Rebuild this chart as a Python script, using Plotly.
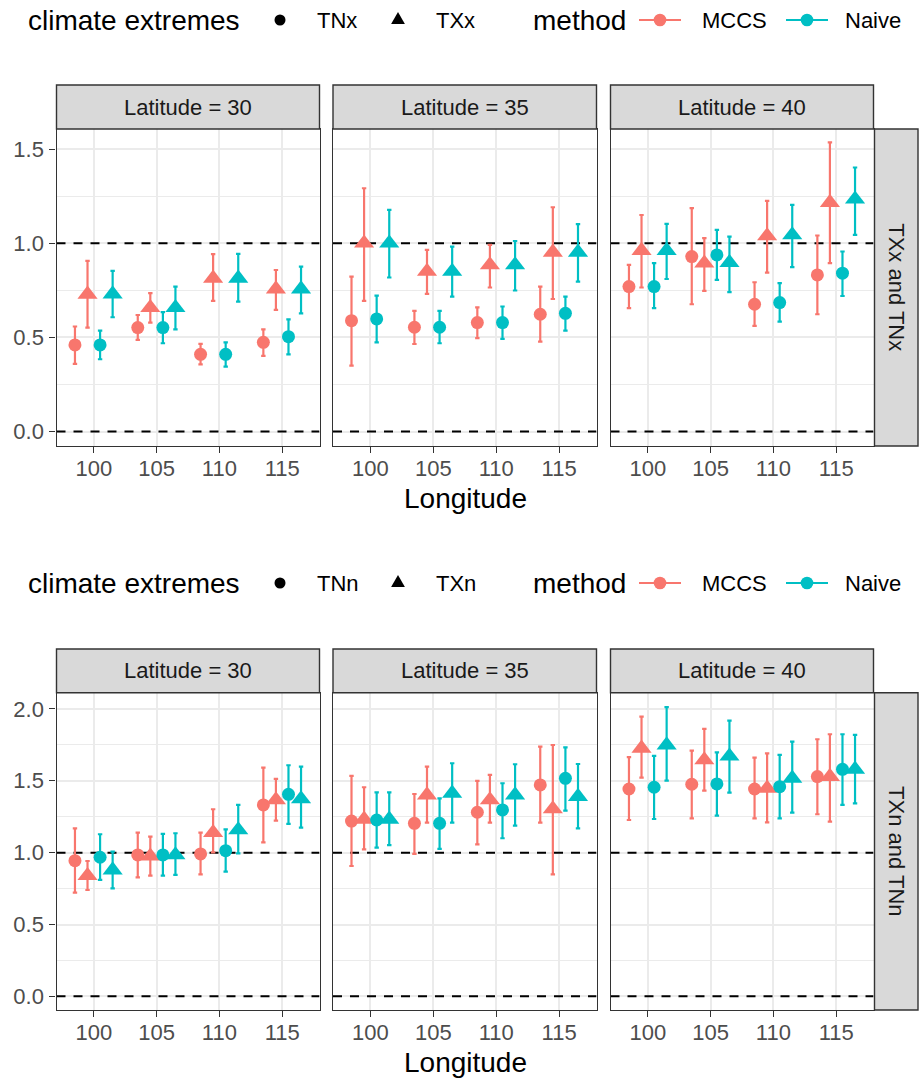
import plotly.graph_objects as go

W, H = 922, 1082
FONT = "Liberation Sans, Arial, Helvetica, sans-serif"

# ---------------- data ----------------
LONGITUDES = [100, 105, 110, 115]
LATITUDES = [30, 35, 40]
METHODS = ["MCCS", "Naive"]
ROW_LABELS = ["TXx and TNx", "TXn and TNn"]
EXTREME_LABELS = [["TNx", "TXx"], ["TNn", "TXn"]]
X_TICKS = [100, 105, 110, 115]
Y_TICKS = [[0.0, 0.5, 1.0, 1.5], [0.0, 0.5, 1.0, 1.5, 2.0]]
Y_MINOR = [[0.25, 0.75, 1.25], [0.25, 0.75, 1.25, 1.75]]
REF_LINES = [0.0, 1.0]

# Row 1: TXx and TNx   (one list per latitude 30/35/40, values per longitude)
MCCS_TNX = [[0.46, 0.552, 0.41, 0.474], [0.589, 0.554, 0.579, 0.623], [0.77, 0.929, 0.676, 0.832]]
MCCS_TNX_LO = [[0.359, 0.487, 0.357, 0.402], [0.350, 0.465, 0.496, 0.478], [0.655, 0.676, 0.561, 0.623]]
MCCS_TNX_HI = [[0.558, 0.619, 0.466, 0.543], [0.823, 0.641, 0.66, 0.77], [0.885, 1.186, 0.793, 1.041]]

MCCS_TXX = [[0.729, 0.658, 0.814, 0.757], [1.0, 0.85, 0.885, 0.952], [0.961, 0.894, 1.039, 1.216]]
MCCS_TXX_LO = [[0.552, 0.579, 0.694, 0.646], [0.694, 0.731, 0.765, 0.704], [0.765, 0.747, 0.844, 0.894]]
MCCS_TXX_HI = [[0.906, 0.735, 0.942, 0.858], [1.292, 0.965, 0.991, 1.191], [1.15, 1.027, 1.225, 1.535]]

NAIVE_TNX = [[0.46, 0.552, 0.41, 0.504], [0.598, 0.554, 0.579, 0.628], [0.77, 0.938, 0.685, 0.841]]
NAIVE_TNX_LO = [[0.384, 0.469, 0.345, 0.41], [0.474, 0.469, 0.492, 0.536], [0.655, 0.805, 0.584, 0.72]]
NAIVE_TNX_HI = [[0.536, 0.634, 0.474, 0.596], [0.722, 0.641, 0.664, 0.717], [0.894, 1.071, 0.788, 0.956]]

NAIVE_TXX = [[0.73, 0.658, 0.814, 0.757], [1.0, 0.85, 0.885, 0.952], [0.961, 0.897, 1.044, 1.234]]
NAIVE_TXX_LO = [[0.607, 0.543, 0.69, 0.628], [0.818, 0.717, 0.749, 0.796], [0.81, 0.74, 0.873, 1.044]]
NAIVE_TXX_HI = [[0.853, 0.77, 0.943, 0.876], [1.177, 0.982, 1.012, 1.101], [1.103, 1.035, 1.204, 1.402]]

# Row 2: TXn and TNn
MCCS_TNN = [[0.944, 0.984, 0.991, 1.332], [1.22, 1.204, 1.281, 1.471], [1.443, 1.476, 1.443, 1.529]]
MCCS_TNN_LO = [[0.722, 0.828, 0.849, 1.072], [0.907, 0.991, 1.058, 1.209], [1.227, 1.239, 1.239, 1.267]]
MCCS_TNN_HI = [[1.169, 1.139, 1.139, 1.592], [1.534, 1.408, 1.499, 1.738], [1.664, 1.71, 1.661, 1.789]]

MCCS_TXN = [[0.84, 0.975, 1.139, 1.367], [1.232, 1.401, 1.367, 1.304], [1.726, 1.645, 1.448, 1.529]]
MCCS_TXN_LO = [[0.74, 0.84, 1.002, 1.223], [1.023, 1.209, 1.209, 0.849], [1.522, 1.432, 1.211, 1.216]]
MCCS_TXN_HI = [[0.942, 1.111, 1.302, 1.513], [1.455, 1.599, 1.541, 1.749], [1.947, 1.861, 1.691, 1.824]]

NAIVE_TNN = [[0.968, 0.984, 1.014, 1.406], [1.227, 1.204, 1.297, 1.517], [1.455, 1.478, 1.459, 1.58]]
NAIVE_TNN_LO = [[0.81, 0.84, 0.868, 1.2], [1.035, 1.026, 1.1, 1.292], [1.234, 1.258, 1.239, 1.332]]
NAIVE_TNN_HI = [[1.128, 1.13, 1.162, 1.608], [1.42, 1.378, 1.483, 1.733], [1.673, 1.698, 1.68, 1.824]]

NAIVE_TXN = [[0.879, 0.984, 1.158, 1.374], [1.232, 1.413, 1.401, 1.39], [1.749, 1.671, 1.517, 1.58]]
NAIVE_TXN_LO = [[0.752, 0.845, 0.995, 1.174], [1.053, 1.209, 1.188, 1.169], [1.501, 1.418, 1.278, 1.343]]
NAIVE_TXN_HI = [[1.007, 1.135, 1.332, 1.599], [1.42, 1.622, 1.615, 1.617], [2.012, 1.919, 1.773, 1.819]]

# group order (ggplot dodge order): MCCS-TN, MCCS-TX, Naive-TN, Naive-TX
ROWS = [
    [("MCCS", 0, MCCS_TNX, MCCS_TNX_LO, MCCS_TNX_HI),
     ("MCCS", 1, MCCS_TXX, MCCS_TXX_LO, MCCS_TXX_HI),
     ("Naive", 0, NAIVE_TNX, NAIVE_TNX_LO, NAIVE_TNX_HI),
     ("Naive", 1, NAIVE_TXX, NAIVE_TXX_LO, NAIVE_TXX_HI)],
    [("MCCS", 0, MCCS_TNN, MCCS_TNN_LO, MCCS_TNN_HI),
     ("MCCS", 1, MCCS_TXN, MCCS_TXN_LO, MCCS_TXN_HI),
     ("Naive", 0, NAIVE_TNN, NAIVE_TNN_LO, NAIVE_TNN_HI),
     ("Naive", 1, NAIVE_TXN, NAIVE_TXN_LO, NAIVE_TXN_HI)],
]

# ---------------- style / layout ----------------
COLORS = {"MCCS": "#F8766D", "Naive": "#00BFC4"}
SYMBOLS = ["circle", "triangle-up"]
SIZES = [13, 17.5]
DODGE_WIDTH = 4.0
X_RANGE = [97.03, 117.97]
Y_RANGES = [[-0.0765, 1.6065], [-0.095, 2.113]]

PANEL_X = [(56.5, 319.5), (333.0, 596.5), (610.5, 873.5)]
PANEL_Y = [(129.0, 446.0), (692.7, 1010.0)]
STRIP_Y = [(85.0, 129.0), (649.0, 692.7)]
RSTRIP_X = (874.5, 918.0)
LEGEND_Y = [20.0, 583.0]
TITLE_Y = [499.0, 1062.0]

BORDER = "#333333"
GRID = "#EBEBEB"
STRIP_FILL = "#D9D9D9"


def px(x):
    return x / W


def py(y):
    return 1 - y / H


fig = go.Figure()
layout = dict(
    width=W, height=H, margin=dict(l=0, r=0, t=0, b=0, autoexpand=False),
    paper_bgcolor="white", plot_bgcolor="white", showlegend=False,
    font=dict(family=FONT, color="black"),
)
shapes = []
annotations = []

for r in range(2):
    for c in range(3):
        idx = r * 3 + c + 1
        xa = "x" if idx == 1 else f"x{idx}"
        ya = "y" if idx == 1 else f"y{idx}"
        xkey = "xaxis" if idx == 1 else f"xaxis{idx}"
        ykey = "yaxis" if idx == 1 else f"yaxis{idx}"
        layout[xkey] = dict(
            domain=[px(PANEL_X[c][0]), px(PANEL_X[c][1])], anchor=ya,
            range=X_RANGE, tickvals=X_TICKS, ticks="outside", ticklen=6,
            tickwidth=1.4, tickcolor=BORDER, ticklabelstandoff=-4,
            tickfont=dict(size=22, color="#4D4D4D", family=FONT),
            showgrid=True, gridcolor=GRID, gridwidth=1.6, zeroline=False,
            showline=True, mirror=True, linecolor=BORDER, linewidth=1.4,
        )
        layout[ykey] = dict(
            domain=[py(PANEL_Y[r][1]), py(PANEL_Y[r][0])], anchor=xa,
            range=Y_RANGES[r], tickvals=Y_TICKS[r], tickformat=".1f",
            ticks="outside" if c == 0 else "", ticklen=6, tickwidth=1.4,
            tickcolor=BORDER, showticklabels=(c == 0), ticklabelstandoff=1,
            tickfont=dict(size=22, color="#4D4D4D", family=FONT),
            showgrid=True, gridcolor=GRID, gridwidth=1.6, zeroline=False,
            showline=True, mirror=True, linecolor=BORDER, linewidth=1.4,
            minor=dict(tickvals=Y_MINOR[r], showgrid=True, gridcolor=GRID,
                       gridwidth=0.8, ticks=""),
        )
        # reference dashed lines (drawn first, beneath the points)
        for v in REF_LINES:
            fig.add_trace(go.Scatter(
                x=X_RANGE, y=[v, v], xaxis=xa, yaxis=ya, mode="lines",
                line=dict(color="black", width=2, dash="9px,8px"),
                hoverinfo="skip", cliponaxis=False,
            ))
        # data
        n = len(ROWS[r])
        for gi, (meth, ext, est, lo, hi) in enumerate(ROWS[r]):
            off = (gi - (n - 1) / 2) * DODGE_WIDTH / n
            e = est[c]
            xs = [lon + off for lon in LONGITUDES]
            fig.add_trace(go.Scatter(
                x=xs, y=e, xaxis=xa, yaxis=ya, mode="markers",
                marker=dict(symbol=SYMBOLS[ext], size=SIZES[ext],
                            color=COLORS[meth], line=dict(width=0)),
                error_y=dict(type="data", symmetric=False,
                             array=[h - v for h, v in zip(hi[c], e)],
                             arrayminus=[v - l for v, l in zip(e, lo[c])],
                             color=COLORS[meth], thickness=2.2, width=2.2),
                name=f"{meth} {EXTREME_LABELS[r][ext]}",
                hoverinfo="skip",
            ))
        # top strip
        shapes.append(dict(type="rect", xref="paper", yref="paper",
                           x0=px(PANEL_X[c][0]), x1=px(PANEL_X[c][1]),
                           y0=py(STRIP_Y[r][1]), y1=py(STRIP_Y[r][0]),
                           fillcolor=STRIP_FILL, line=dict(color=BORDER, width=1.4),
                           layer="above"))
        annotations.append(dict(xref="paper", yref="paper",
                                x=px((PANEL_X[c][0] + PANEL_X[c][1]) / 2),
                                y=py((STRIP_Y[r][0] + STRIP_Y[r][1]) / 2),
                                text=f"Latitude = {LATITUDES[c]}", showarrow=False,
                                xanchor="center", yanchor="middle",
                                font=dict(size=22, color="#1A1A1A", family=FONT)))
    # right strip
    shapes.append(dict(type="rect", xref="paper", yref="paper",
                       x0=px(RSTRIP_X[0]), x1=px(RSTRIP_X[1]),
                       y0=py(PANEL_Y[r][1]), y1=py(PANEL_Y[r][0]),
                       fillcolor=STRIP_FILL, line=dict(color=BORDER, width=1.4),
                       layer="above"))
    annotations.append(dict(xref="paper", yref="paper",
                            x=px((RSTRIP_X[0] + RSTRIP_X[1]) / 2),
                            y=py((PANEL_Y[r][0] + PANEL_Y[r][1]) / 2),
                            text=ROW_LABELS[r], textangle=90, showarrow=False,
                            xanchor="center", yanchor="middle",
                            font=dict(size=22, color="#1A1A1A", family=FONT)))
    # axis title
    annotations.append(dict(xref="paper", yref="paper",
                            x=px((PANEL_X[0][0] + PANEL_X[2][1]) / 2), y=py(TITLE_Y[r]),
                            text="Longitude", showarrow=False, xanchor="center",
                            yanchor="middle", font=dict(size=28, color="black", family=FONT)))

    # ---------- legend (drawn manually) ----------
    ly = LEGEND_Y[r]

    def txt(x, s, size):
        annotations.append(dict(xref="paper", yref="paper", x=px(x), y=py(ly),
                                text=s, showarrow=False, xanchor="left",
                                yanchor="middle", font=dict(size=size, color="black", family=FONT)))

    txt(25.5, "climate extremes", 28)
    # circle key
    cr = 5.5
    shapes.append(dict(type="circle", xref="paper", yref="paper",
                       x0=px(280 - cr), x1=px(280 + cr), y0=py(ly + cr), y1=py(ly - cr),
                       fillcolor="black", line=dict(width=0)))
    txt(315, EXTREME_LABELS[r][0], 22)
    # triangle key
    tx, th, tw = 398, 12.0, 13.8
    path = (f"M {px(tx - tw / 2)} {py(ly + th / 3)} L {px(tx + tw / 2)} {py(ly + th / 3)} "
            f"L {px(tx)} {py(ly - 2 * th / 3)} Z")
    shapes.append(dict(type="path", xref="paper", yref="paper", path=path,
                       fillcolor="black", line=dict(width=0)))
    txt(434, EXTREME_LABELS[r][1], 22)
    txt(531, "method", 28)
    for cx, meth, lx in [(660, "MCCS", 700), (807, "Naive", 843)]:
        shapes.append(dict(type="line", xref="paper", yref="paper",
                           x0=px(cx - 21), x1=px(cx + 21), y0=py(ly), y1=py(ly),
                           line=dict(color=COLORS[meth], width=2.2)))
        rr = 6.3
        shapes.append(dict(type="circle", xref="paper", yref="paper",
                           x0=px(cx - rr), x1=px(cx + rr), y0=py(ly + rr), y1=py(ly - rr),
                           fillcolor=COLORS[meth], line=dict(width=0)))
        txt(lx, meth, 22)

layout["shapes"] = shapes
layout["annotations"] = annotations
fig.update_layout(**layout)
fig.write_html(
    "out.html",
    config={"displayModeBar": False},
    post_script="document.body.style.margin='0';document.body.style.overflow='hidden';",
)
